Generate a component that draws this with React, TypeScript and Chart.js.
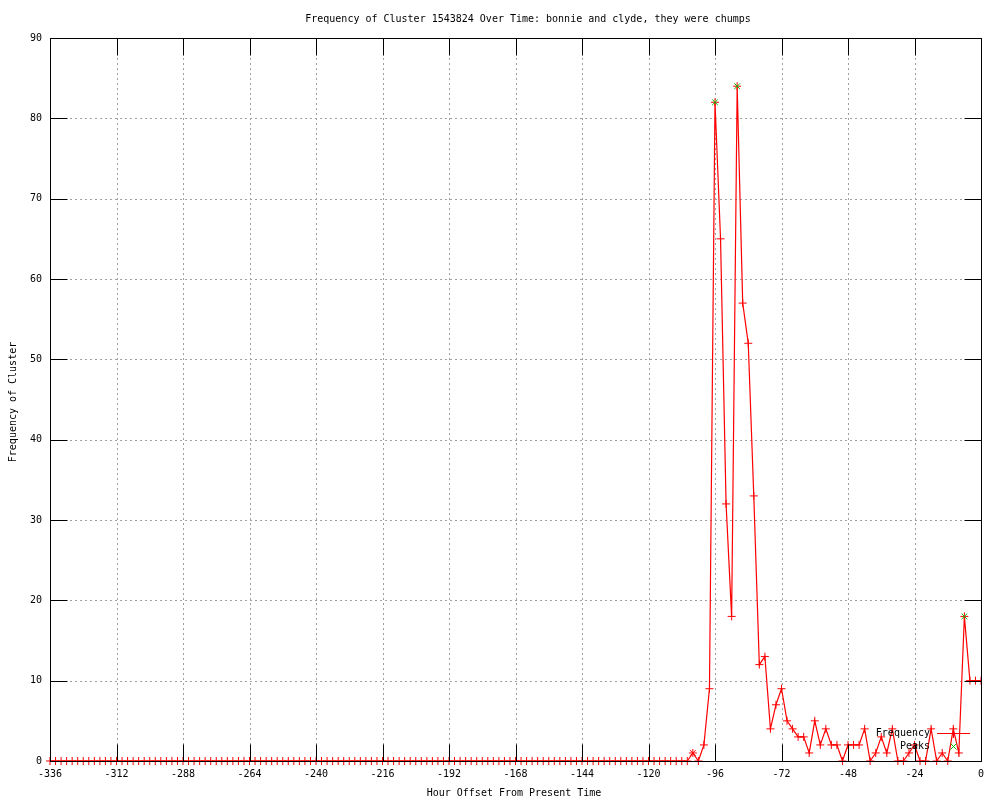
import React, { useEffect, useRef } from 'react';
import { Chart, registerables } from 'chart.js';

Chart.register(...registerables);

const titleText = 'Frequency of Cluster 1543824 Over Time: bonnie and clyde, they were chumps';
const xAxisTitle = 'Hour Offset From Present Time';
const yAxisTitle = 'Frequency of Cluster';
const seriesLabels = ['Frequency', 'Peaks'];

const hours = [
  -336, -334, -332, -330, -328, -326, -324, -322, -320, -318,
  -316, -314, -312, -310, -308, -306, -304, -302, -300, -298,
  -296, -294, -292, -290, -288, -286, -284, -282, -280, -278,
  -276, -274, -272, -270, -268, -266, -264, -262, -260, -258,
  -256, -254, -252, -250, -248, -246, -244, -242, -240, -238,
  -236, -234, -232, -230, -228, -226, -224, -222, -220, -218,
  -216, -214, -212, -210, -208, -206, -204, -202, -200, -198,
  -196, -194, -192, -190, -188, -186, -184, -182, -180, -178,
  -176, -174, -172, -170, -168, -166, -164, -162, -160, -158,
  -156, -154, -152, -150, -148, -146, -144, -142, -140, -138,
  -136, -134, -132, -130, -128, -126, -124, -122, -120, -118,
  -116, -114, -112, -110, -108, -106,
  -104, -102, -100, -98, -96, -94, -92, -90, -88, -86,
  -84, -82, -80, -78, -76, -74, -72, -70, -68, -66,
  -64, -62, -60, -58, -56, -54, -52, -50, -48, -46,
  -44, -42, -40, -38, -36, -34, -32, -30, -28, -26,
  -24, -22, -20, -18, -16, -14, -12, -10, -8, -6,
  -4, -2, 0,
];

const frequency = [
  0, 0, 0, 0, 0, 0, 0, 0, 0, 0,
  0, 0, 0, 0, 0, 0, 0, 0, 0, 0,
  0, 0, 0, 0, 0, 0, 0, 0, 0, 0,
  0, 0, 0, 0, 0, 0, 0, 0, 0, 0,
  0, 0, 0, 0, 0, 0, 0, 0, 0, 0,
  0, 0, 0, 0, 0, 0, 0, 0, 0, 0,
  0, 0, 0, 0, 0, 0, 0, 0, 0, 0,
  0, 0, 0, 0, 0, 0, 0, 0, 0, 0,
  0, 0, 0, 0, 0, 0, 0, 0, 0, 0,
  0, 0, 0, 0, 0, 0, 0, 0, 0, 0,
  0, 0, 0, 0, 0, 0, 0, 0, 0, 0,
  0, 0, 0, 0, 0, 0,
  1, 0, 2, 9, 82, 65, 32, 18, 84, 57,
  52, 33, 12, 13, 4, 7, 9, 5, 4, 3,
  3, 1, 5, 2, 4, 2, 2, 0, 2, 2,
  2, 4, 0, 1, 3, 1, 4, 0, 0, 1,
  2, 0, 0, 4, 0, 1, 0, 4, 1, 18,
  10, 10, 10,
];

const peakHours = [-96, -88, -6];
const peakValues = [82, 84, 18];

const starHours = [-104];

const xTickValues = [-336, -312, -288, -264, -240, -216, -192, -168, -144, -120, -96, -72, -48, -24, 0];
const yTickValues = [0, 10, 20, 30, 40, 50, 60, 70, 80, 90];

const FONT = 'DejaVu Sans Mono';
const FONT_SIZE = 10;
const RED = '#ff0000';
const GREEN = '#00c000';

const framePlugin = {
  id: 'gnuplotFrame',
  beforeDatasetsDraw(chart: any) {
    const { ctx, chartArea: a, scales } = chart;
    const xs = scales.x;
    const ys = scales.y;
    ctx.save();
    ctx.lineWidth = 1;
    ctx.strokeStyle = '#a0a0a0';
    ctx.setLineDash([2, 3]);
    const line = (x1: number, y1: number, x2: number, y2: number) => {
      ctx.beginPath();
      ctx.moveTo(x1, y1);
      ctx.lineTo(x2, y2);
      ctx.stroke();
    };
    xs.ticks.forEach((t: any) => {
      const px = Math.round(xs.getPixelForValue(t.value)) + 0.5;
      if (px <= a.left + 1 || px >= a.right - 1) return;
      line(px, a.top, px, a.bottom);
    });
    ys.ticks.forEach((t: any) => {
      const py = Math.round(ys.getPixelForValue(t.value)) + 0.5;
      if (py <= a.top + 1 || py >= a.bottom - 1) return;
      line(a.left, py, a.right, py);
    });
    ctx.restore();
  },
  afterDatasetsDraw(chart: any) {
    const { ctx, chartArea: a, scales } = chart;
    const xs = scales.x;
    const ys = scales.y;
    ctx.save();
    ctx.lineWidth = 1;
    ctx.setLineDash([]);
    ctx.strokeStyle = '#000';
    const line = (x1: number, y1: number, x2: number, y2: number) => {
      ctx.beginPath();
      ctx.moveTo(x1, y1);
      ctx.lineTo(x2, y2);
      ctx.stroke();
    };
    const L = Math.round(a.left) + 0.5;
    const R = Math.round(a.right) + 0.5;
    const T = Math.round(a.top) + 0.5;
    const B = Math.round(a.bottom) + 0.5;
    const tick = 17;
    xs.ticks.forEach((t: any) => {
      const px = Math.round(xs.getPixelForValue(t.value)) + 0.5;
      line(px, B, px, B - tick);
      line(px, T, px, T + tick);
    });
    ys.ticks.forEach((t: any) => {
      const py = Math.round(ys.getPixelForValue(t.value)) + 0.5;
      line(L, py, L + tick, py);
      line(R, py, R - tick, py);
    });
    ctx.strokeRect(L, T, R - L, B - T);

    // legend
    ctx.font = `${FONT_SIZE}px "${FONT}"`;
    ctx.fillStyle = '#000';
    ctx.textAlign = 'right';
    ctx.textBaseline = 'middle';
    const textRight = 930;
    const row1 = 733;
    const row2 = 746;
    ctx.fillText(seriesLabels[0], textRight, row1);
    ctx.fillText(seriesLabels[1], textRight, row2);
    const sx1 = 937;
    const sx2 = 970;
    const sm = 953;
    ctx.fillStyle = RED;
    ctx.fillRect(sx1, row1, sx2 - sx1, 1);
    ctx.fillRect(sm, row1 - 4, 1, 9);
    ctx.strokeStyle = GREEN;
    const d = 3;
    const gx = sm + 0.5;
    const gy = row2 + 0.5;
    line(gx - d, gy - d, gx + d, gy + d);
    line(gx - d, gy + d, gx + d, gy - d);
    ctx.restore();
  },
  afterDraw(chart: any) {
    const { ctx } = chart;
    ctx.save();
    ctx.font = `${FONT_SIZE}px "${FONT}"`;
    ctx.fillStyle = '#000';
    ctx.textAlign = 'center';
    ctx.textBaseline = 'middle';
    ctx.fillText(titleText, 528, 19);
    ctx.fillText(xAxisTitle, 514, 793);
    ctx.translate(13, 402);
    ctx.rotate(-Math.PI / 2);
    ctx.fillText(yAxisTitle, 0, 0);
    ctx.restore();
  },
};

export default function App() {
  const canvasRef = useRef<HTMLCanvasElement | null>(null);

  useEffect(() => {
    const canvas = canvasRef.current;
    if (!canvas) return;
    const freqData = hours.map((h, i) => ({ x: h, y: frequency[i] }));
    const peakData = peakHours.map((h, i) => ({ x: h, y: peakValues[i] }));
    const pointStyles = hours.map((h) => (starHours.includes(h) ? 'star' : 'cross'));
    const tickFont = { family: FONT, size: FONT_SIZE };

    const chart = new Chart(canvas, {
      type: 'line',
      data: {
        datasets: [
          {
            label: seriesLabels[0],
            data: freqData,
            borderColor: RED,
            backgroundColor: RED,
            borderWidth: 1.2,
            pointStyle: pointStyles as any,
            pointRadius: 4,
            pointBorderWidth: 1,
            pointBorderColor: RED,
            tension: 0,
            fill: false,
            order: 2,
            clip: { left: 5, right: 0, top: 5, bottom: 5 } as any,
          },
          {
            label: seriesLabels[1],
            data: peakData,
            showLine: false,
            borderColor: GREEN,
            backgroundColor: GREEN,
            pointStyle: 'crossRot',
            pointRadius: 4,
            pointBorderWidth: 1,
            pointBorderColor: GREEN,
            order: 1,
          },
        ],
      },
      options: {
        responsive: false,
        animation: false,
        devicePixelRatio: 1,
        layout: { padding: { top: 38, right: 19, left: 0, bottom: 0 } },
        plugins: {
          legend: { display: false },
          tooltip: { enabled: false },
          title: { display: false },
        },
        events: [],
        scales: {
          x: {
            type: 'linear',
            min: -336,
            max: 0,
            afterBuildTicks: (s: any) => {
              s.ticks = xTickValues.map((v) => ({ value: v }));
            },
            afterFit: (s: any) => {
              s.height = 39;
            },
            grid: { display: false, drawTicks: false },
            border: { display: false },
            ticks: {
              font: tickFont,
              color: '#000',
              padding: 7,
              maxRotation: 0,
              autoSkip: false,
              callback: (v: any) => String(v),
            },
          },
          y: {
            type: 'linear',
            min: 0,
            max: 90,
            afterBuildTicks: (s: any) => {
              s.ticks = yTickValues.map((v) => ({ value: v }));
            },
            afterFit: (s: any) => {
              s.width = 50;
            },
            grid: { display: false, drawTicks: false },
            border: { display: false },
            ticks: {
              font: tickFont,
              color: '#000',
              padding: 8,
              autoSkip: false,
              callback: (v: any) => String(v),
            },
          },
        },
      },
      plugins: [framePlugin],
    } as any);

    return () => chart.destroy();
  }, []);

  return (
    <div style={{ position: 'absolute', left: 0, top: 0, width: 1000, height: 800, background: '#fff' }}>
      <canvas ref={canvasRef} width={1000} height={800} style={{ display: 'block', width: 1000, height: 800 }} />
    </div>
  );
}
